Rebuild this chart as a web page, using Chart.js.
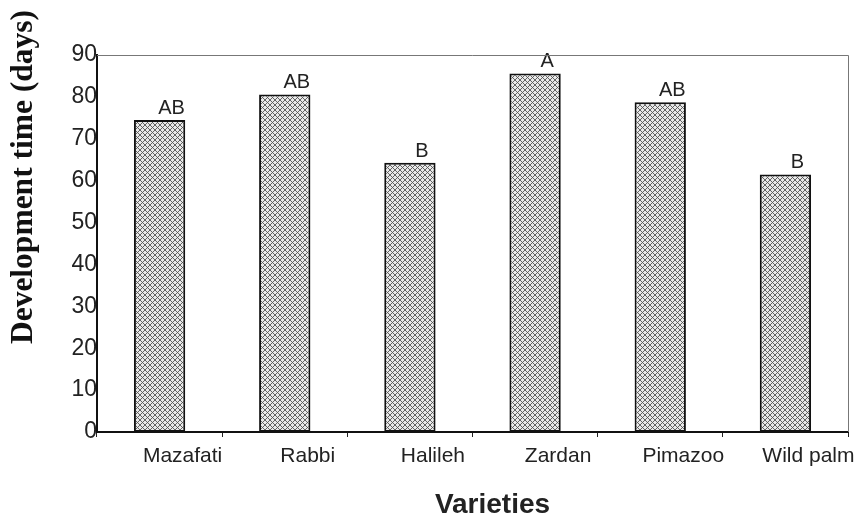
<!DOCTYPE html>
<html>
<head>
<meta charset="utf-8">
<script src="https://cdn.jsdelivr.net/npm/chart.js@4.4.1/dist/chart.umd.min.js"></script>
<style>
  html, body { margin: 0; padding: 0; background: #ffffff; }
  #wrap { width: 865px; height: 521px; }
</style>
</head>
<body>
<div id="wrap"><canvas id="c" width="865" height="521"></canvas></div>
<script>
// ---- data ----
const categories = ['Mazafati', 'Rabbi', 'Halileh', 'Zardan', 'Pimazoo', 'Wild palm'];
const devTime = [74.5, 80.6, 64.3, 85.6, 78.7, 61.5];
const groupLetters = ['AB', 'AB', 'B', 'A', 'AB', 'B'];
const yMin = 0, yMax = 90, yStep = 10;
const yTitle = 'Development time (days)';
const xTitle = 'Varieties';

// ---- hatch pattern ----
function makeHatch() {
  const s = 5;
  const p = document.createElement('canvas');
  p.width = s; p.height = s;
  const g = p.getContext('2d');
  g.fillStyle = '#e9e9e9';
  g.fillRect(0, 0, s, s);
  g.strokeStyle = '#555';
  g.lineWidth = 0.9;
  g.beginPath();
  g.moveTo(0, 0); g.lineTo(s, s);
  g.moveTo(0, s); g.lineTo(s, 0);
  g.stroke();
  return document.getElementById('c').getContext('2d').createPattern(p, 'repeat');
}

const extras = {
  id: 'extras',
  afterDatasetsDraw(chart) {
    const ctx = chart.ctx;
    const meta = chart.getDatasetMeta(0);
    ctx.save();
    ctx.fillStyle = '#222';
    ctx.font = '20px "Liberation Sans", Arial, sans-serif';
    ctx.textAlign = 'center';
    ctx.textBaseline = 'alphabetic';
    meta.data.forEach((bar, i) => {
      ctx.fillText(groupLetters[i], bar.x + 12, bar.y - 6);
    });
    ctx.restore();
  },
  afterDraw(chart) {
    const ctx = chart.ctx;
    const a = chart.chartArea;
    ctx.save();
    // top and right frame lines
    ctx.strokeStyle = '#777';
    ctx.lineWidth = 1;
    ctx.beginPath();
    ctx.moveTo(a.left, a.top + 0.5);
    ctx.lineTo(a.right + 0.5, a.top + 0.5);
    ctx.lineTo(a.right + 0.5, a.bottom);
    ctx.stroke();
    // axis titles
    ctx.fillStyle = '#111';
    ctx.textAlign = 'center';
    ctx.textBaseline = 'middle';
    ctx.font = 'bold 31.5px "Liberation Serif", "Times New Roman", serif';
    ctx.translate(24, 177);
    ctx.rotate(-Math.PI / 2);
    ctx.fillText(yTitle, 0, 0);
    ctx.setTransform(1, 0, 0, 1, 0, 0);
    ctx.font = 'bold 28px "Liberation Sans", Arial, sans-serif';
    ctx.fillStyle = '#222';
    ctx.fillText(xTitle, (a.left + a.right) / 2 + 20, 505);
    ctx.restore();
  }
};

new Chart(document.getElementById('c'), {
  type: 'bar',
  data: {
    labels: categories,
    datasets: [{
      data: devTime,
      backgroundColor: makeHatch(),
      borderColor: '#111',
      borderWidth: 2,
      borderSkipped: false,
      barPercentage: 0.41,
      categoryPercentage: 1.0
    }]
  },
  options: {
    responsive: false,
    animation: false,
    devicePixelRatio: 1,
    layout: { padding: { left: 0, top: 55, right: 17, bottom: 0 } },
    plugins: { legend: { display: false }, tooltip: { enabled: false } },
    scales: {
      x: {
        offset: true,
        grid: {
          display: true,
          offset: true,
          drawOnChartArea: false,
          drawTicks: true,
          tickLength: 5,
          color: '#222',
          lineWidth: 1
        },
        border: { display: true, color: '#111', width: 2 },
        ticks: {
          color: '#222',
          font: { family: '"Liberation Sans", Arial, sans-serif', size: 21 },
          padding: 7,
          labelOffset: 23,
          maxRotation: 0,
          autoSkip: false
        },
        afterFit(scale) { scale.height = 89; }
      },
      y: {
        min: yMin,
        max: yMax,
        grid: { display: false, drawTicks: false },
        border: { display: true, color: '#111', width: 2 },
        ticks: {
          stepSize: yStep,
          color: '#222',
          padding: 0,
          font: { family: '"Liberation Sans", Arial, sans-serif', size: 23 }
        },
        afterFit(scale) { scale.width = 97; }
      }
    }
  },
  plugins: [extras]
});
</script>
</body>
</html>
